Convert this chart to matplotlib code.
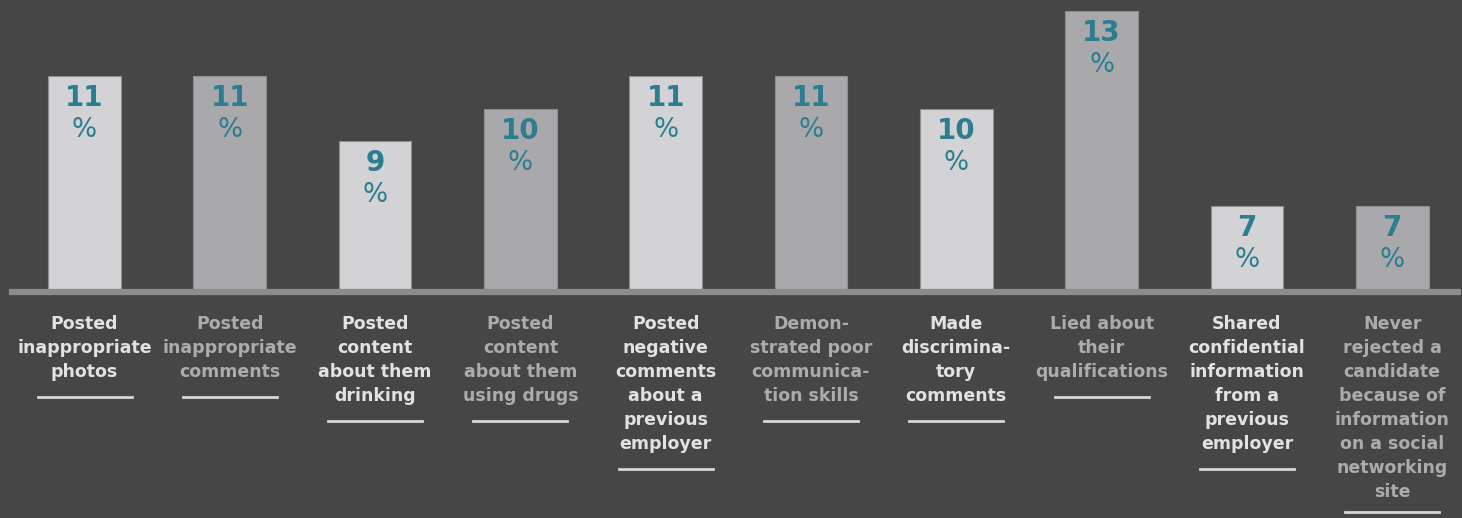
import numpy as np
import matplotlib.pyplot as plt
from matplotlib.transforms import blended_transform_factory

# chart data
categories = [
    ["Posted", "inappropriate", "photos"],
    ["Posted", "inappropriate", "comments"],
    ["Posted", "content", "about them", "drinking"],
    ["Posted", "content", "about them", "using drugs"],
    ["Posted", "negative", "comments", "about a", "previous", "employer"],
    ["Demon-", "strated poor", "communica-", "tion skills"],
    ["Made", "discrimina-", "tory", "comments"],
    ["Lied about", "their", "qualifications"],
    ["Shared", "confidential", "information", "from a", "previous", "employer"],
    ["Never", "rejected a", "candidate", "because of", "information",
     "on a social", "networking", "site"],
]
values = [11, 11, 9, 10, 11, 11, 10, 13, 7, 7]

BG = "#464646"
LIGHT_BAR = "#d3d3d5"
GRAY_BAR = "#a9a9ac"
TEAL = "#2b7d8f"
W, H = 1462, 518

fig = plt.figure(figsize=(W / 100, H / 100), dpi=100, facecolor=BG)
base_px = 291  # baseline, pixels from top
ax = fig.add_axes([0, 1 - base_px / H, 1, base_px / H])
ax.set_facecolor(BG)
ax.axis("off")

x = np.arange(len(values))
step = 145.3
ax.set_xlim(-84.5 / step, (W - 84.5) / step)
ymin = 4.39
ax.set_ylim(ymin, ymin + base_px / 32.47)

colors = [LIGHT_BAR if i % 2 == 0 else GRAY_BAR for i in range(len(values))]
ax.bar(x, np.array(values) - ymin, bottom=ymin, width=0.5, color=colors,
       edgecolor="#8e8e90", linewidth=0.8, zorder=2)

for xi, v in zip(x, values):
    ax.annotate(str(v), (xi, v), xytext=(0, -22), textcoords="offset pixels",
                ha="center", va="center", fontsize=20, fontweight="bold",
                color=TEAL, zorder=3)
    ax.annotate("%", (xi, v), xytext=(0, -54), textcoords="offset pixels",
                ha="center", va="center", fontsize=19, color=TEAL, zorder=3)

# baseline
trans = blended_transform_factory(fig.transFigure, fig.transFigure)
fig.add_artist(plt.Line2D([12 / W, 1458 / W], [1 - 291.5 / H] * 2,
                          transform=trans, color="#8c8c8c", linewidth=4.5))

# category labels with underlines
lt = blended_transform_factory(ax.transData, fig.transFigure)
for i, lines in enumerate(categories):
    col = "#e2e2e2" if i % 2 == 0 else "#acacac"
    for k, line in enumerate(lines):
        ypx = 324 + 24 * k
        ax.text(i, 1 - ypx / H, line, transform=lt, ha="center", va="center",
                fontsize=12.5, color=col, clip_on=False, fontweight="bold")
    uy = min(324 + 24 * (len(lines) - 1) + 25, 512)
    half = 47 / step
    ax.plot([i - half, i + half], [1 - uy / H] * 2, transform=lt,
            color="#d6d6d6", linewidth=2, clip_on=False)

fig.savefig("out.png", dpi=100, facecolor=BG)
